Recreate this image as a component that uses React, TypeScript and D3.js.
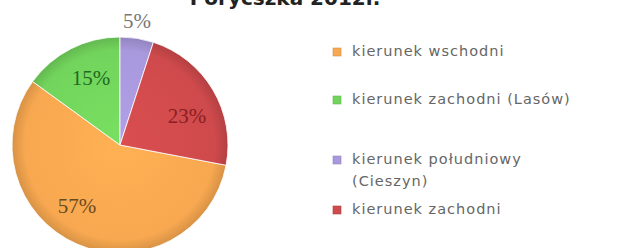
import React from "react";
import * as d3 from "d3";

const categories = [
  "kierunek wschodni",
  "kierunek zachodni (Lasów)",
  "kierunek południowy (Cieszyn)",
  "kierunek zachodni",
];
const values = [57, 15, 5, 23];
const labels = ["57%", "15%", "5%", "23%"];
const colors = ["#F8A850", "#72D45C", "#A898DC", "#CF4A4C"];
const labelColors = ["#6a4a1e", "#1f6a1f", "#777777", "#8a1e22"];
const legendLines = [["kierunek wschodni"], ["kierunek zachodni (Lasów)"], ["kierunek południowy", "(Cieszyn)"], ["kierunek zachodni"]];

export default function App() {
  const W = 619, H = 248;
  const cx = 120, cy = 145, r = 108;
  const total = d3.sum(values);
  const start = (2 * Math.PI * (values[2] + values[3])) / total;
  const pie = d3.pie<number>().sort(null).startAngle(start).endAngle(start + 2 * Math.PI);
  const arcs = pie(values);
  const arc = d3.arc<d3.PieArcDatum<number>>().innerRadius(0).outerRadius(r);
  const labelPos: [number, number][] = [[-43, 63], [-29, -65], [17, -122], [67, -27]];
  const legendY = [52, 100, 160, 210];
  return (
    <svg width={W} height={H} style={{ position: "absolute", left: 0, top: 0 }}>
      <defs>
        {colors.map((c, i) => (
          <radialGradient key={i} id={`g${i}`} cx={0} cy={0} r={r} gradientUnits="userSpaceOnUse">
            <stop offset="0%" stopColor={d3.color(c)!.brighter(0.15).toString()} />
            <stop offset="88%" stopColor={c} />
            <stop offset="100%" stopColor={d3.color(c)!.darker(0.4).toString()} />
          </radialGradient>
        ))}
      </defs>
      <rect width={W} height={H} fill="#ffffff" />
      <text x={285} y={5} textAnchor="middle" fontFamily="DejaVu Sans" fontWeight="bold" fontSize={20} fill="#222">
        Porycszka 2012r.
      </text>
      <g transform={`translate(${cx},${cy})`}>
        {arcs.map((a, i) => (
          <path key={i} d={arc(a)!} fill={`url(#g${i})`} stroke="#ffffff" strokeWidth={0.8} />
        ))}
        {arcs.map((a, i) => (
          <text key={i} x={labelPos[i][0]} y={labelPos[i][1]} textAnchor="middle" dominantBaseline="middle"
            fontFamily="Liberation Serif" fontSize={21} fill={labelColors[i]}>
            {labels[i]}
          </text>
        ))}
      </g>
      {categories.map((c, i) => (
        <g key={c}>
          <rect x={333} y={legendY[i] - 4} width={8} height={8} fill={colors[i]} stroke={d3.color(colors[i])!.darker(0.4).toString()} strokeWidth={0.6} />
          {legendLines[i].map((t, j) => (
            <text key={j} x={352} y={legendY[i] + j * 22} dominantBaseline="middle"
              fontFamily="DejaVu Sans" fontSize={14.5} letterSpacing={1} fill="#666">
              {t}
            </text>
          ))}
        </g>
      ))}
    </svg>
  );
}
